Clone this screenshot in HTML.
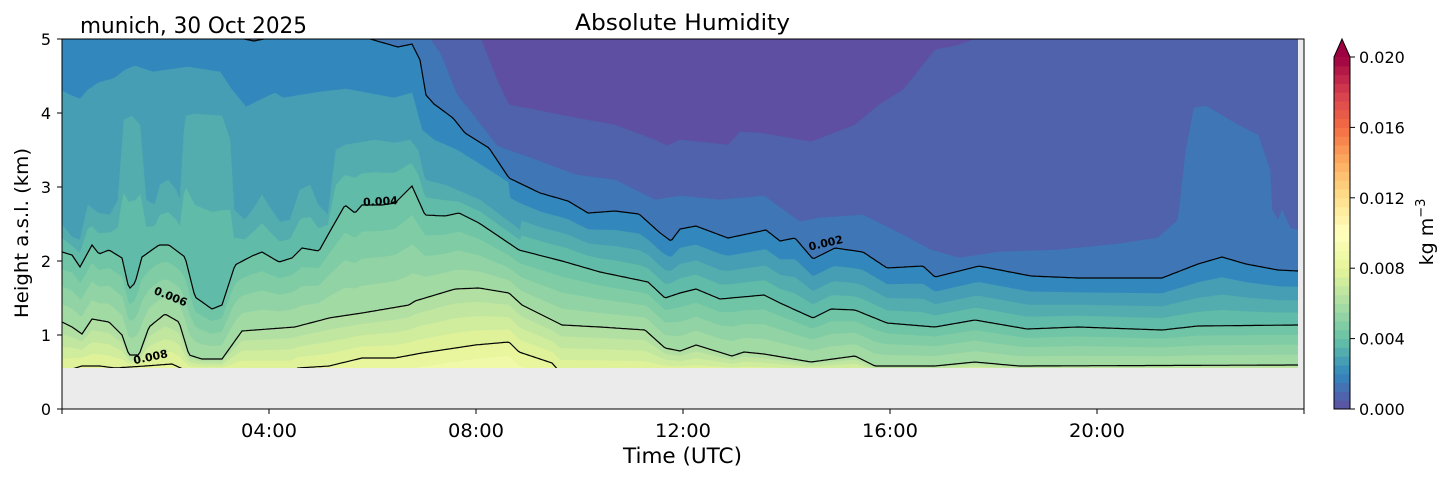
<!DOCTYPE html>
<html><head><meta charset="utf-8"><style>
html,body{margin:0;padding:0;background:#fff;width:1454px;height:478px;overflow:hidden}
svg text{font-family:"DejaVu Sans","Liberation Sans",sans-serif;fill:#000}
</style></head><body>
<svg id="s" width="1454" height="478" xmlns="http://www.w3.org/2000/svg">
<defs><clipPath id="cp"><rect x="62" y="39" width="1236" height="329"/></clipPath></defs>
<rect x="62" y="39" width="1242" height="370" fill="#ebebeb"/>
<g id="bands" clip-path="url(#cp)"></g>
<g id="lines" clip-path="url(#cp)" fill="none" stroke="#000" stroke-width="1.2"></g>
<g font-size="11" font-weight="bold">
<text x="363" y="205" transform="rotate(-3 383 201)">0.004</text>
<text x="808" y="246" transform="rotate(-13 829 241)">0.002</text>
<text x="153" y="302" transform="rotate(22 175 298)">0.006</text>
<text x="133" y="360" transform="rotate(-12 154 356)">0.008</text>
</g>
<rect x="62" y="39" width="1242" height="370" fill="none" stroke="#000" stroke-width="1"/>
<g id="ticks" stroke="#000" stroke-width="1"></g>
<g id="tl"></g>
<text x="575" y="30" font-size="22" textLength="215" lengthAdjust="spacingAndGlyphs">Absolute Humidity</text>
<text x="80" y="33" font-size="22" textLength="227" lengthAdjust="spacingAndGlyphs">munich, 30 Oct 2025</text>
<text x="623" y="463" font-size="21" textLength="119" lengthAdjust="spacingAndGlyphs">Time (UTC)</text>
<text transform="translate(28 318) rotate(-90)" font-size="19" textLength="170" lengthAdjust="spacingAndGlyphs">Height a.s.l. (km)</text>
<g id="cb"></g>
<text transform="translate(1433 232) rotate(-90)" font-size="19" text-anchor="middle">kg m<tspan dy="-8" font-size="13">−3</tspan></text>
</svg>
<script>
var NS="http://www.w3.org/2000/svg";
function el(t,a,p){var e=document.createElementNS(NS,t);for(var k in a)e.setAttribute(k,a[k]);p.appendChild(e);return e;}
var anchors=["#5e4fa2","#3288bd","#66c2a5","#abdda4","#e6f598","#ffffbf","#fee08b","#fdae61","#f46d43","#d53e4f","#9e0142"];
function hx(c){return [parseInt(c.substr(1,2),16),parseInt(c.substr(3,2),16),parseInt(c.substr(5,2),16)];}
function cmap(f){f=Math.max(0,Math.min(1,f));var p=f*10,i=Math.min(9,Math.floor(p)),t=p-i;var a=hx(anchors[i]),b=hx(anchors[i+1]);
return "rgb("+[0,1,2].map(function(k){return Math.round(a[k]+(b[k]-a[k])*t)}).join(",")+")";}
function col(j){if(j==1)return "#5e4fa2";if(j==2)return "#4f62ab";if(j==3)return "#3f76b6";if(j==4)return "#3288bd";return cmap((j+0.5)/40);}
function lin(pts,x){if(x<=pts[0][0])return pts[0][1];for(var i=1;i<pts.length;i++){if(x<=pts[i][0]){var a=pts[i-1],b=pts[i];return a[1]+(b[1]-a[1])*(x-a[0])/(b[0]-a[0]);}}return pts[pts.length-1][1];}
var C={};
C[2]=[[62,20],[478,20],[481,39],[497,80],[509,105],[536,110],[576,118],[615,125],[655,140],[667,146],[680,140],[728,145],[740,132],[760,133],[811,142],[855,125],[879,105],[903,90],[927,60],[935,50],[959,45],[975,39],[985,20],[1298,20]];
C[3]=[[62,20],[425,20],[430,39],[441,55],[457,95],[477,120],[497,146],[536,160],[576,175],[615,180],[655,200],[680,196],[720,200],[764,196],[800,222],[819,218],[863,215],[903,235],[931,250],[959,258],[999,252],[1058,250],[1118,244],[1158,238],[1178,220],[1186,150],[1194,108],[1206,106],[1238,125],[1258,135],[1270,170],[1272,210],[1278,220],[1282,210],[1290,228],[1298,230]];
C[4]=[[62,25],[240,25],[244,39],[254,41],[264,39],[268,25],[355,25],[370,39],[398,47],[412,44],[420,60],[426,95],[434,104],[453,118],[465,133],[489,148],[509,178],[540,193],[568,201],[588,213],[615,211],[639,214],[659,232],[671,241],[680,229],[696,226],[728,238],[766,230],[780,241],[795,238],[813,259],[835,248],[863,252],[887,268],[923,266],[935,277],[979,266],[1031,276],[1078,278],[1130,278],[1162,278],[1198,264],[1222,257],[1246,264],[1278,270],[1298,271]];
C[8]=[[62,252],[72,255],[80,267],[92,245],[99,254],[109,250],[122,258],[129,289],[135,283],[142,257],[159,245],[169,245],[185,257],[195,297],[212,309],[222,305],[235,265],[252,256],[262,252],[279,262],[292,258],[302,248],[319,251],[329,233],[345,205],[355,213],[362,205],[382,205],[395,203],[412,186],[425,215],[445,216],[459,213],[479,223],[519,250],[562,261],[600,272],[648,282],[665,298],[680,293],[696,289],[720,299],[764,295],[780,303],[813,318],[831,309],[855,310],[887,323],[935,327],[975,320],[1027,329],[1078,327],[1162,330],[1198,326],[1298,325]];
C[12]=[[62,322],[72,327],[82,334],[92,319],[109,322],[122,335],[129,355],[139,355],[149,327],[165,314],[179,322],[189,355],[202,359],[222,359],[242,331],[295,327],[329,318],[362,313],[409,305],[415,301],[455,289],[479,288],[509,293],[522,305],[562,325],[600,327],[645,330],[665,348],[680,351],[696,345],[732,356],[744,352],[764,354],[811,362],[855,356],[875,366],[935,366],[975,362],[1019,366],[1298,365]];
C[16]=[[62,372],[82,366],[100,366],[115,368],[145,366],[172,364],[185,370],[290,372],[298,368],[329,366],[362,358],[395,358],[422,353],[475,345],[509,342],[519,352],[552,363],[560,372],[1298,372]];
var E5=[[62,91],[70,95],[80,99],[88,90],[98,83],[115,78],[125,70],[135,66],[153,72],[188,67],[220,72],[232,90],[246,107],[260,100],[275,93],[283,98],[320,92],[346,89],[394,98],[412,93],[422,130],[434,140],[457,150],[481,165],[509,183]];
var E6=[[62,225],[72,237],[80,240],[88,205],[98,213],[110,215],[118,200],[124,120],[132,116],[140,125],[146,200],[155,205],[160,185],[168,180],[176,190],[180,200],[185,116],[195,114],[222,116],[230,140],[234,210],[245,220],[256,205],[262,195],[268,205],[280,222],[290,220],[300,190],[310,185],[318,205],[328,215],[336,150],[345,145],[375,140],[395,143],[410,140],[418,150],[425,180],[445,185],[480,200],[520,230]];
function Y(j,x){
 if(C[j])return lin(C[j],x);
 var a=lin(C[4],x),b=lin(C[8],x),c=lin(C[12],x),d=lin(C[16],x);
 if(j==5){if(x<=509)return lin(E5,x);return a+(b-a)*0.3;}
 if(j==6){if(x<=520)return lin(E6,x);return a+(b-a)*0.55;}
 if(j==7){return (Y(6,x)+b)/2;}
 if(j>8&&j<12)return b+(c-b)*(j-8)/4;
 if(j>12&&j<16)return c+(d-c)*(j-12)/4;
 if(j==17)return d+14; if(j==18)return d+28;
 return 500;}
var bands=document.getElementById("bands");
el("rect",{x:62,y:39,width:1236,height:329,fill:col(1)},bands);
for(var j=2;j<=18;j++){
 var p="M62,380";
 for(var x=62;x<=1298;x+=2)p+=" L"+x+","+Y(j,x).toFixed(1);
 p+=" L1298,380 Z";
 el("path",{d:p,fill:col(j),stroke:col(j),"stroke-width":0.6},bands);
}
var lines=document.getElementById("lines");
[4,8,12,16].forEach(function(j){var p="";for(var x=62;x<=1298;x+=2)p+=(p?" L":"M")+x+","+Y(j,x).toFixed(1);el("path",{d:p},lines);});
var tk=document.getElementById("ticks"),tl=document.getElementById("tl");
for(var k=0;k<=5;k++){var y=409-k*74;el("line",{x1:57,y1:y,x2:62,y2:y},tk);var t=el("text",{x:51,y:y+6,"text-anchor":"end","font-size":"16"},tl);t.textContent=k;}
el("line",{x1:62,y1:409,x2:62,y2:414},tk);el("line",{x1:1304,y1:409,x2:1304,y2:414},tk);
["04:00","08:00","12:00","16:00","20:00"].forEach(function(s,i){var x=62+(i+1)*4*51.75;el("line",{x1:x,y1:409,x2:x,y2:414},tk);var t=el("text",{x:x-28,y:437,"font-size":"19",textLength:"56",lengthAdjust:"spacingAndGlyphs"},tl);t.textContent=s;});
var cb=document.getElementById("cb");
for(var i=0;i<40;i++){el("rect",{x:1334,y:(409-(i+1)*8.8).toFixed(1),width:16,height:9.3,fill:cmap((i+0.5)/40)},cb);}
el("polygon",{points:"1334,57 1350,57 1342,39",fill:"#9e0142"},cb);
el("polygon",{points:"1334,409 1334,57 1342,39 1350,57 1350,409",fill:"none",stroke:"#000","stroke-width":1},cb);
for(var k=0;k<=5;k++){var y=409-k*70.4;el("line",{x1:1350,y1:y,x2:1355,y2:y,stroke:"#000"},cb);var t=el("text",{x:1359,y:y+6,"font-size":"16"},cb);t.textContent=(k*0.004).toFixed(3);}
</script>
</body></html>
